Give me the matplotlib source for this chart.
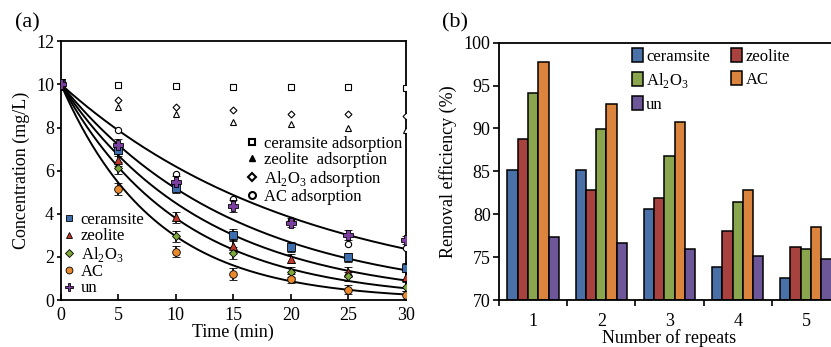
import numpy as np
import matplotlib.pyplot as plt
from matplotlib.lines import Line2D

plt.rcParams['font.family'] = 'Liberation Serif'
plt.rcParams['font.size'] = 13
plt.rcParams['mathtext.fontset'] = 'custom'
plt.rcParams['mathtext.rm'] = 'Liberation Serif'

AL2O3 = 'Al$_{\\mathregular{2}}$O$_{\\mathregular{3}}$'

# (a) kinetics data
t = [0, 5, 10, 15, 20, 25, 30]
ads_ceramsite = [10, 9.97, 9.93, 9.9, 9.9, 9.87, 9.83]
ads_zeolite = [10, 8.94, 8.61, 8.27, 8.18, 7.96, 7.9]
ads_al2o3 = [10, 9.28, 8.97, 8.8, 8.64, 8.61, 8.54]
ads_ac = [10, 7.89, 5.83, 4.70, 3.70, 2.61, 2.41]

ceramsite = [10, 6.94, 5.2, 3.03, 2.46, 1.98, 1.5]
zeolite = [10, 6.48, 3.83, 2.52, 1.92, 1.31, 1.08]
al2o3 = [10, 6.14, 2.95, 2.2, 1.31, 1.1, 0.62]
ac = [10, 5.15, 2.24, 1.22, 0.99, 0.48, 0.23]
un = [10, 7.21, 5.49, 4.34, 3.59, 3.02, 2.78]
err = [0.25, 0.28, 0.25, 0.28, 0.22, 0.22, 0.2]

# first-order rate constants of the fitted curves (1/min)
k_fit = [0.048, 0.066, 0.080, 0.097, 0.122]

# (b) repeat data
repeats = [1, 2, 3, 4, 5]
eff = {
    'ceramsite': [85.1, 85.2, 80.6, 73.9, 72.6],
    'zeolite': [88.8, 82.8, 81.9, 78.1, 76.2],
    AL2O3: [94.1, 89.9, 86.8, 81.4, 75.9],
    'AC': [97.7, 92.8, 90.7, 82.8, 78.5],
    'un': [77.4, 76.7, 75.9, 75.1, 74.8],
}
bar_colors = ['#4A70A8', '#A8423F', '#89A54E', '#DB843D', '#6E5798']

fig = plt.figure(figsize=(8.31, 3.47), dpi=100)

# ---------- (a) ----------
ax = fig.add_axes([0.0734, 0.1354, 0.4148, 0.7456])
tt = np.linspace(0, 30, 200)
for k in k_fit:
    ax.plot(tt, 10 * np.exp(-k * tt), color='black', lw=1.4, zorder=2)

ax.plot(t, ads_ceramsite, 's', mfc='white', mec='black', ms=4.5, mew=0.8, ls='none', zorder=3)
ax.plot(t, ads_zeolite, '^', mfc='white', mec='black', ms=4.5, mew=0.8, ls='none', zorder=3)
ax.plot(t, ads_al2o3, 'D', mfc='white', mec='black', ms=3.5, mew=0.8, ls='none', zorder=3)
ax.plot(t, ads_ac, 'o', mfc='white', mec='black', ms=4.5, mew=0.8, ls='none', zorder=3)

series = [(ceramsite, 's', '#3E6DAE', 5.5), (zeolite, '^', '#C0392B', 5.5),
          (al2o3, 'D', '#7FA83A', 4.5), (ac, 'o', '#E8892E', 5.5), (un, 'P', '#7B3FA0', 7)]
for y, m, c, ms in series:
    ax.errorbar(t, y, yerr=err, fmt=m, mfc=c, mec='black', mew=0.6, ms=ms,
                ecolor='black', elinewidth=1.2, capsize=3, capthick=1.2, zorder=4)

ax.set_xlim(0, 30)
ax.set_ylim(0, 12)
ax.set_xticks(range(0, 31, 5))
ax.set_yticks(range(0, 13, 2))
ax.tick_params(axis='x', direction='in', length=4, width=1.2, pad=5)
ax.tick_params(axis='y', direction='out', length=3, width=1.2, pad=2)
for s in ax.spines.values():
    s.set_linewidth(1.3)
ax.set_xlabel('Time (min)', labelpad=0)
ax.set_ylabel('Concentration (mg/L)', labelpad=4)

h1 = [Line2D([], [], marker=m, color=c, mec='black', mew=0.6, ms=ms * 0.9, ls='none')
      for _, m, c, ms in series]
leg1 = ax.legend(h1, ['ceramsite', 'zeolite', AL2O3, 'AC', 'un'], loc='lower left',
                 bbox_to_anchor=(-0.02, -0.025), frameon=False, fontsize=12, handlelength=0.6,
                 handletextpad=0.4, labelspacing=0.02, borderaxespad=0.2)
ax.add_artist(leg1)
h2 = [Line2D([], [], marker='s', mfc='white', mec='black', mew=1.5, ms=5, ls='none'),
      Line2D([], [], marker='^', color='black', ms=5, ls='none'),
      Line2D([], [], marker='D', mfc='white', mec='black', mew=1.5, ms=4, ls='none'),
      Line2D([], [], marker='o', mfc='white', mec='black', mew=1.5, ms=5, ls='none')]
ax.legend(h2, ['ceramsite adsorption', 'zeolite  adsorption', AL2O3 + ' adsorption', 'AC adsorption'],
          loc='upper left', bbox_to_anchor=(0.52, 0.66), frameon=False, fontsize=12,
          handlelength=0.6, handletextpad=0.4, labelspacing=0.02, borderaxespad=0)
fig.text(0.033, 0.935, '(a)', fontsize=16, ha='center', va='center')

# ---------- (b) ----------
bx = fig.add_axes([0.6005, 0.1354, 0.4103, 0.7416])
x = np.arange(len(repeats))
w = 0.151
for i, (name, vals) in enumerate(eff.items()):
    bx.bar(x + (i - 2) * w, np.array(vals) - 70, w, bottom=70, color=bar_colors[i],
           edgecolor='black', linewidth=1.1, label=name, zorder=2)
bx.set_xlim(-0.5, len(repeats) - 0.5)
bx.set_ylim(70, 100)
bx.set_yticks(range(70, 101, 5))
bx.set_xticks(x)
bx.set_xticklabels([str(r) for r in repeats])
bx.set_xticks(np.arange(-0.5, len(repeats), 1), minor=True)
bx.tick_params(axis='x', which='major', length=0, pad=9)
bx.tick_params(axis='x', which='minor', direction='out', length=4, width=1.2)
bx.tick_params(axis='y', direction='out', length=4, width=1.2, pad=2)
for s in bx.spines.values():
    s.set_linewidth(1.3)
bx.set_xlabel('Number of repeats', labelpad=0)
bx.set_ylabel('Removal efficiency (%)', labelpad=5)
hb, lb = bx.get_legend_handles_labels()
order = [0, 2, 4, 1, 3]
bx.legend([hb[i] for i in order], [lb[i] for i in order], ncol=2, loc='upper left',
          bbox_to_anchor=(0.37, 1.005), frameon=False, fontsize=12, handlelength=0.65,
          handleheight=0.9, handletextpad=0.2, labelspacing=0.38, columnspacing=1.3,
          borderaxespad=0)
fig.text(0.548, 0.935, '(b)', fontsize=16, ha='center', va='center')

fig.savefig('out.png', dpi=100)
